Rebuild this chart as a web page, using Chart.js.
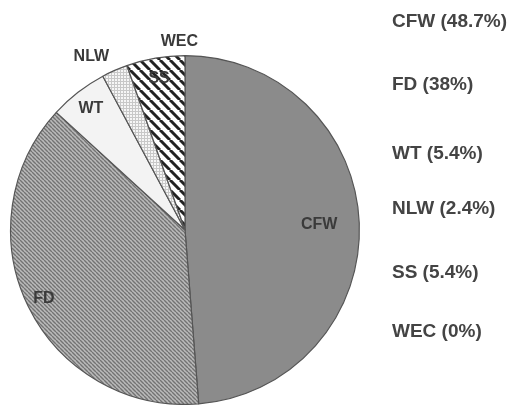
<!DOCTYPE html>
<html>
<head>
<meta charset="utf-8">
<script src="https://cdn.jsdelivr.net/npm/chart.js@4.4.0/dist/chart.umd.min.js"></script>
<style>
  html, body { margin: 0; padding: 0; background: #fff; }
  #wrap { width: 515px; height: 405px; }
</style>
</head>
<body>
<div id="wrap"><canvas id="myChart" width="515" height="405"></canvas></div>
<script>
const labels = ["CFW", "FD", "WT", "NLW", "SS", "WEC"];
const shares = [48.7, 38, 5.4, 2.4, 5.4, 0];
const legendTexts = ["CFW (48.7%)", "FD (38%)", "WT (5.4%)", "NLW (2.4%)", "SS (5.4%)", "WEC (0%)"];

function makePattern(size, bg, draw) {
    let c = document.createElement("canvas");
    c.width = size;
    c.height = size;
    let g = c.getContext("2d");
    g.fillStyle = bg;
    g.fillRect(0, 0, size, size);
    draw(g, size);
    return g.createPattern(c, "repeat");
}

// "\" diagonal stripes
function backStripes(g, s, color, w) {
    g.strokeStyle = color;
    g.lineWidth = w;
    g.beginPath();
    for (let k = -1; k <= 1; k++) {
        g.moveTo(k * s, 0);
        g.lineTo(k * s + s, s);
    }
    g.stroke();
}

const fills = [
    "#8b8b8b",
    makePattern(4, "#bababa", (g, s) => backStripes(g, s, "#737373", 1.4)),
    "#f3f3f3",
    makePattern(3, "#f6f6f6", (g, s) => {
        g.fillStyle = "#c8c8c8";
        g.fillRect(0, 0, s, 1);
        g.fillRect(0, 0, 1, s);
    }),
    makePattern(10, "#ffffff", (g, s) => backStripes(g, s, "#222222", 3)),
    "#ffffff"
];

// radial position of each slice label, as fraction of the radius, plus a small angle shift
const labelPlace = [
    { f: 0.77, da: 0.0 },
    { f: 0.9, da: 0.0 },
    { f: 0.88, da: 0.0 },
    { f: 1.13, da: -0.08 },
    { f: 0.88, da: 0.0 },
    { f: 1.08, da: -0.03 }
];

const sliceLabels = {
    id: "sliceLabels",
    afterDatasetsDraw(chart) {
        let ctx = chart.ctx;
        let meta = chart.getDatasetMeta(0);
        ctx.save();
        ctx.font = "bold 16px 'Liberation Sans', Arial, sans-serif";
        ctx.fillStyle = "#3a3a3a";
        ctx.textAlign = "center";
        ctx.textBaseline = "middle";
        meta.data.forEach((arc, i) => {
            let p = arc.getProps(["x", "y", "startAngle", "endAngle", "outerRadius"], true);
            let a = (p.startAngle + p.endAngle) / 2 + labelPlace[i].da;
            let r = p.outerRadius * labelPlace[i].f;
            ctx.fillText(labels[i], p.x + Math.cos(a) * r, p.y + Math.sin(a) * r);
        });
        ctx.restore();
    }
};

const sideLegend = {
    id: "sideLegend",
    afterDraw(chart) {
        let ctx = chart.ctx;
        ctx.save();
        ctx.font = "bold 19px 'Liberation Sans', Arial, sans-serif";
        ctx.fillStyle = "#444444";
        ctx.textAlign = "left";
        ctx.textBaseline = "middle";
        let rows = [22, 85, 154, 209, 273, 332];
        legendTexts.forEach((t, i) => ctx.fillText(t, 392, rows[i]));
        ctx.restore();
    }
};

const data = {
    labels: labels,
    datasets: [{
        data: shares,
        backgroundColor: fills,
        borderColor: "#555555",
        borderWidth: 1.2
    }]
};

const config = {
    type: "pie",
    data: data,
    options: {
        responsive: false,
        animation: false,
        layout: { padding: { left: 10, top: 55, right: 155, bottom: 0 } },
        plugins: {
            legend: { display: false },
            tooltip: { enabled: false }
        }
    },
    plugins: [sliceLabels, sideLegend]
};

let myChart = new Chart(document.getElementById("myChart"), config);
</script>
</body>
</html>
